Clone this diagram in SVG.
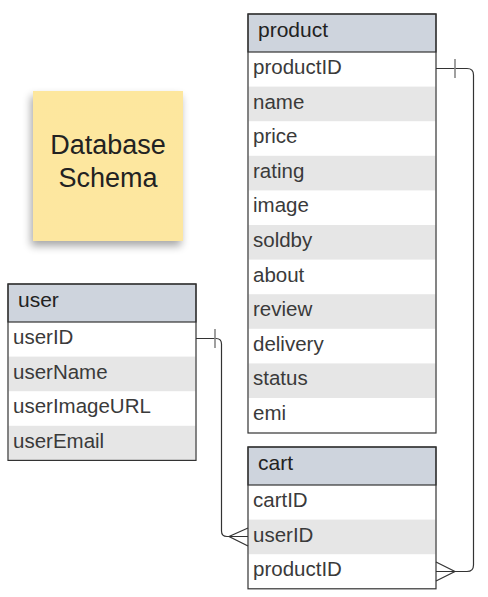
<svg xmlns="http://www.w3.org/2000/svg" width="488" height="597" viewBox="0 0 488 597">
<style>
  .hdr { fill: #ced4dd; stroke: #333; stroke-width: 1.2; }
  .row { fill: #ffffff; }
  .alt { fill: #e6e6e6; }
  .frame { fill: none; stroke: #333; stroke-width: 1.2; }
  .ht { font-family: "Liberation Sans", Arial, sans-serif; font-size: 21px; fill: #222; }
  .rt { font-family: "Liberation Sans", Arial, sans-serif; font-size: 20.5px; fill: #3a3a3a; }
  .st { font-family: "Liberation Sans", Arial, sans-serif; font-size: 27px; fill: #222; text-anchor: middle; }
  .ln { fill: none; stroke: #333; stroke-width: 1.2; }
  .tick { fill: none; stroke: #888; stroke-width: 1.6; }
</style>
<defs>
  <filter id="sh" x="-20%" y="-20%" width="140%" height="150%">
    <feGaussianBlur in="SourceAlpha" stdDeviation="4"/>
    <feOffset dx="-2" dy="5" result="b"/>
    <feComponentTransfer><feFuncA type="linear" slope="0.35"/></feComponentTransfer>
    <feMerge><feMergeNode/><feMergeNode in="SourceGraphic"/></feMerge>
  </filter>
  <linearGradient id="sg" x1="0" y1="0" x2="0" y2="1">
    <stop offset="0" stop-color="#fde79e"/>
    <stop offset="1" stop-color="#fde7a0"/>
  </linearGradient>
</defs>
<rect width="488" height="597" fill="#ffffff"/>

<g id="sticky">
  <rect x="33" y="91" width="150" height="150" fill="url(#sg)" filter="url(#sh)"/>
  <text class="st" x="108" y="154">Database</text>
  <text class="st" x="108" y="187">Schema</text>
</g>

<g id="product">
  <rect class="row" x="248" y="52" width="188" height="381"/>
  <rect class="alt" x="248.6" y="86.6" width="186.8" height="34.6"/>
  <rect class="alt" x="248.6" y="155.8" width="186.8" height="34.6"/>
  <rect class="alt" x="248.6" y="225" width="186.8" height="34.6"/>
  <rect class="alt" x="248.6" y="294.2" width="186.8" height="34.6"/>
  <rect class="alt" x="248.6" y="363.4" width="186.8" height="34.6"/>
  <rect class="hdr" x="248" y="14" width="188" height="38"/>
  <rect class="frame" x="248" y="14" width="188" height="419"/>
  <text class="ht" x="258" y="37">product</text>
  <text class="rt" x="253" y="74">productID</text>
  <text class="rt" x="253" y="108.6">name</text>
  <text class="rt" x="253" y="143.2">price</text>
  <text class="rt" x="253" y="177.8">rating</text>
  <text class="rt" x="253" y="212.4">image</text>
  <text class="rt" x="253" y="247">soldby</text>
  <text class="rt" x="253" y="281.6">about</text>
  <text class="rt" x="253" y="316.2">review</text>
  <text class="rt" x="253" y="350.8">delivery</text>
  <text class="rt" x="253" y="385.4">status</text>
  <text class="rt" x="253" y="420">emi</text>
</g>

<g id="user">
  <rect class="row" x="8" y="322" width="188" height="138.4"/>
  <rect class="alt" x="8.6" y="356.6" width="186.8" height="34.6"/>
  <rect class="alt" x="8.6" y="425.8" width="186.8" height="34.6"/>
  <rect class="hdr" x="8" y="284" width="188" height="38"/>
  <rect class="frame" x="8" y="284" width="188" height="176.4"/>
  <text class="ht" x="18" y="307">user</text>
  <text class="rt" x="13" y="344">userID</text>
  <text class="rt" x="13" y="378.6">userName</text>
  <text class="rt" x="13" y="413.2">userImageURL</text>
  <text class="rt" x="13" y="447.8">userEmail</text>
</g>

<g id="cart">
  <rect class="row" x="248" y="485" width="188" height="103.8"/>
  <rect class="alt" x="248.6" y="519.6" width="186.8" height="34.6"/>
  <rect class="hdr" x="248" y="447" width="188" height="38"/>
  <rect class="frame" x="248" y="447" width="188" height="141.8"/>
  <text class="ht" x="258" y="470">cart</text>
  <text class="rt" x="253" y="507">cartID</text>
  <text class="rt" x="253" y="541.6">userID</text>
  <text class="rt" x="253" y="576.2">productID</text>
</g>

<g id="connectors">
  <path class="ln" d="M196,338.5 H216 Q221.5,338.5 221.5,344 V531 Q221.5,536.5 227,536.5 H248"/>
  <line class="tick" x1="215" y1="329" x2="215" y2="348"/>
  <path class="ln" d="M248,528 L229,536.5 L248,546"/>
  <path class="ln" d="M436,68.5 H467 Q473.5,68.5 473.5,75 V565 Q473.5,571.5 467,571.5 H436"/>
  <line class="tick" x1="455" y1="59" x2="455" y2="78"/>
  <path class="ln" d="M436,562 L455,571.5 L436,581"/>
</g>
</svg>
